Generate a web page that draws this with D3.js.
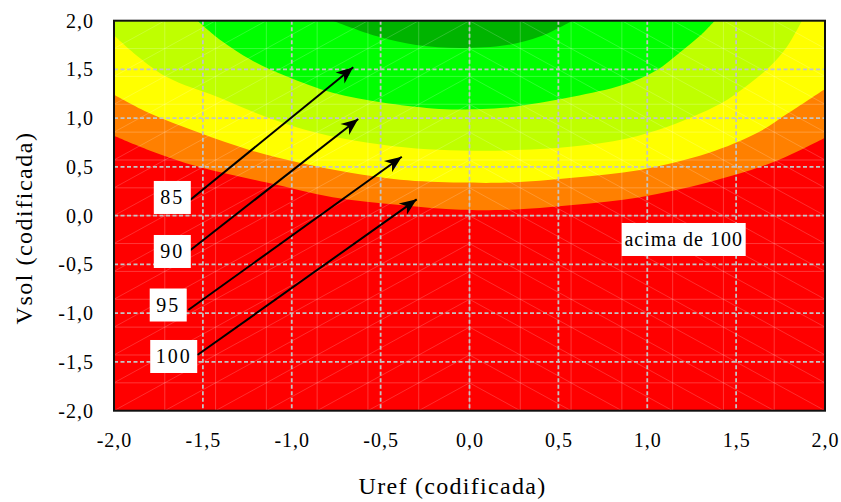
<!DOCTYPE html>
<html>
<head>
<meta charset="utf-8">
<script src="https://cdn.jsdelivr.net/npm/d3@7"></script>
<style>
  body { margin: 0; background: #fff; }
  text { font-family: "Liberation Serif", "Times New Roman", serif; fill: #000; }
</style>
</head>
<body>
<div id="chart"></div>
<script>
// axis ticks (coded values)
var xTicks = [-2, -1.5, -1, -0.5, 0, 0.5, 1, 1.5, 2];
var yTicks = [-2, -1.5, -1, -0.5, 0, 0.5, 1, 1.5, 2];

// contour levels, from outside (red) to the inner dark green top
var levels = [100, 95, 90, 85, 80];
var bandColors = ["#ff8000", "#ffff00", "#bfff00", "#00ff00", "#00b400"];
var baseColor = "#ff0000";

// boundaries, [Uref, Vsol]
var b100 = [[-2.0, 0.82], [-1.80, 0.67], [-1.52, 0.50], [-1.14, 0.34], [-0.77, 0.19], [-0.39, 0.11],
  [-0.05, 0.06], [0.21, 0.06], [0.58, 0.11], [0.96, 0.19], [1.34, 0.34], [1.71, 0.55], [2.0, 0.80]];
var b95 = [[-2.0, 1.24], [-1.80, 1.05], [-1.52, 0.85], [-1.23, 0.67], [-0.95, 0.54], [-0.67, 0.44],
  [-0.39, 0.37], [-0.05, 0.34], [0.21, 0.34], [0.58, 0.39], [0.96, 0.47], [1.34, 0.64], [1.62, 0.85],
  [1.80, 1.06], [2.0, 1.30]];
var b90 = [[-2.0, 1.85], [-1.89, 1.67], [-1.70, 1.42], [-1.42, 1.22], [-1.14, 1.01], [-0.86, 0.85],
  [-0.58, 0.75], [-0.30, 0.69], [-0.05, 0.67], [0.21, 0.67], [0.58, 0.71], [0.88, 0.79], [1.11, 0.91],
  [1.30, 1.05], [1.45, 1.19], [1.58, 1.36], [1.69, 1.53], [1.785, 1.73], [1.87, 2.0]];
var b85 = [[-1.53, 2.0], [-1.40, 1.80], [-1.23, 1.60], [-1.03, 1.43], [-0.77, 1.26], [-0.49, 1.16],
  [-0.21, 1.10], [-0.05, 1.09], [0.21, 1.11], [0.58, 1.22], [0.86, 1.34], [1.05, 1.49], [1.18, 1.67],
  [1.30, 1.85], [1.38, 2.0]];
var b80 = [[-0.77, 2.0], [-0.52, 1.84], [-0.30, 1.75], [-0.05, 1.72], [0.21, 1.75], [0.40, 1.84], [0.58, 2.0]];
var boundaries = [b100, b95, b90, b85, b80];

// callouts: label, label centre, arrow start, arrow tip (coded units)
var calloutLabels = ["85", "90", "95", "100"];
var calloutBox = [[-1.672, 0.187], [-1.672, -0.367], [-1.695, -0.916], [-1.664, -1.444]];
var calloutFrom = [[-1.572, 0.161], [-1.582, -0.369], [-1.582, -0.967], [-1.531, -1.429]];
var calloutTo = [[-0.654, 1.522], [-0.626, 0.992], [-0.381, 0.605], [-0.297, 0.168]];
var outsideLabel = "acima de 100";
var outsidePos = [1.205, -0.244];

var svgWidth = 841;
var svgHeight = 502;
var margin = { top: 20.7, right: 16, bottom: 91.3, left: 114 };
var width = svgWidth - margin.left - margin.right;
var height = svgHeight - margin.top - margin.bottom;

var svg = d3.select("#chart").append("svg")
  .attr("width", svgWidth)
  .attr("height", svgHeight);

var chartGroup = svg.append("g")
  .attr("transform", `translate(${margin.left}, ${margin.top})`);

var x = d3.scaleLinear().domain([-2, 2]).range([0, width]);
var y = d3.scaleLinear().domain([-2, 2]).range([height, 0]);

// comma decimals, plain hyphen minus
var locale = d3.formatLocale({ decimal: ",", thousands: ".", grouping: [3], currency: ["", ""], minus: "-" });
var fmt = locale.format(".1f");

svg.append("defs").append("clipPath").attr("id", "plotClip")
  .append("rect").attr("width", width).attr("height", height);

var plot = chartGroup.append("g").attr("clip-path", "url(#plotClip)");

// red background = above 100
plot.append("rect")
  .attr("width", width)
  .attr("height", height)
  .attr("fill", baseColor);

// each band fills from its boundary up to the top edge
var area = d3.area()
  .x(d => x(d[0]))
  .y0(y(2))
  .y1(d => y(d[1]))
  .curve(d3.curveCatmullRom.alpha(0.5));

plot.selectAll(".band")
  .data(boundaries)
  .enter()
  .append("path")
  .attr("class", "band")
  .attr("d", d => area(d))
  .attr("fill", (d, i) => bandColors[i]);

// faint triangulation mesh
var meshStep = 4 / 14;
var mesh = d3.range(-2, 2 + 1e-9, meshStep);
var meshG = plot.append("g").attr("stroke", "#fff").attr("fill", "none");
meshG.selectAll(".mv").data(mesh).enter().append("line")
  .attr("x1", d => x(d)).attr("x2", d => x(d))
  .attr("y1", 0).attr("y2", height)
  .attr("stroke-opacity", 0.22).attr("stroke-width", 1);
meshG.selectAll(".mh").data(mesh).enter().append("line")
  .attr("y1", d => y(d)).attr("y2", d => y(d))
  .attr("x1", 0).attr("x2", width)
  .attr("stroke-opacity", 0.22).attr("stroke-width", 1);
var cells = [];
mesh.slice(0, -1).forEach(a => mesh.slice(0, -1).forEach(b => cells.push([a, b])));
meshG.selectAll(".md").data(cells).enter().append("line")
  .attr("x1", d => x(d[0])).attr("x2", d => x(d[0] + meshStep))
  .attr("y1", d => d[0] < -1e-9 ? y(d[1]) : y(d[1] + meshStep))
  .attr("y2", d => d[0] < -1e-9 ? y(d[1] + meshStep) : y(d[1]))
  .attr("stroke-opacity", 0.3).attr("stroke-width", 0.6);

// dashed grid
var grid = plot.append("g").attr("stroke", "#c4c4c4").attr("stroke-width", 1.8)
  .attr("stroke-dasharray", "4,2.5");
grid.selectAll(".gx").data(xTicks.slice(1, -1)).enter().append("line")
  .attr("x1", d => x(d)).attr("x2", d => x(d))
  .attr("y1", 0).attr("y2", height);
grid.selectAll(".gy").data(yTicks.slice(1, -1)).enter().append("line")
  .attr("y1", d => y(d)).attr("y2", d => y(d))
  .attr("x1", 0).attr("x2", width);

// axes (labels only)
var xAxis = chartGroup.append("g")
  .attr("transform", `translate(0, ${height})`)
  .call(d3.axisBottom(x).tickValues(xTicks).tickFormat(fmt).tickSize(0).tickPadding(22));
var yAxis = chartGroup.append("g")
  .call(d3.axisLeft(y).tickValues(yTicks).tickFormat(fmt).tickSize(0).tickPadding(20));
[xAxis, yAxis].forEach(ax => {
  ax.select(".domain").remove();
  ax.selectAll("text")
    .style("font-family", "'Liberation Serif', serif")
    .style("font-size", "20px")
    .style("letter-spacing", "1px")
    .attr("fill", "#000");
});

// border
chartGroup.append("rect")
  .attr("width", width)
  .attr("height", height)
  .attr("fill", "none")
  .attr("stroke", "#111")
  .attr("stroke-width", 2);

// axis titles
svg.append("text")
  .attr("x", margin.left + width / 2 - 17)
  .attr("y", 494)
  .attr("text-anchor", "middle")
  .style("font-size", "24px")
  .style("letter-spacing", "1.3px")
  .text("Uref (codificada)");

svg.append("text")
  .attr("transform", `translate(32, 228) rotate(-90)`)
  .attr("text-anchor", "middle")
  .style("font-size", "24px")
  .style("letter-spacing", "1.5px")
  .text("Vsol (codificada)");

// arrow marker
svg.select("defs").append("marker")
  .attr("id", "arrowHead")
  .attr("markerUnits", "userSpaceOnUse")
  .attr("viewBox", "-18 -8 20 16")
  .attr("refX", 0).attr("refY", 0)
  .attr("markerWidth", 20).attr("markerHeight", 16)
  .attr("orient", "auto")
  .append("path")
  .attr("d", "M0,0 L-17,-7 L-12,0 L-17,7 Z")
  .attr("fill", "#000");

var notes = chartGroup.append("g");
notes.selectAll(".arrow").data(calloutLabels).enter().append("line")
  .attr("x1", (d, i) => x(calloutFrom[i][0]))
  .attr("y1", (d, i) => y(calloutFrom[i][1]))
  .attr("x2", (d, i) => x(calloutTo[i][0]))
  .attr("y2", (d, i) => y(calloutTo[i][1]))
  .attr("stroke", "#000")
  .attr("stroke-width", 2)
  .attr("marker-end", "url(#arrowHead)");

function addLabel(txt, pos, boxW, spacing) {
  var g = notes.append("g").attr("transform", `translate(${x(pos[0])}, ${y(pos[1])})`);
  g.append("rect")
    .attr("x", -boxW / 2).attr("y", -16.5)
    .attr("width", boxW).attr("height", 33)
    .attr("fill", "#fff");
  g.append("text")
    .attr("text-anchor", "middle")
    .attr("dy", "0.35em")
    .style("font-size", "20px")
    .style("letter-spacing", spacing + "px")
    .text(txt);
}
calloutLabels.forEach((t, i) => addLabel(t, calloutBox[i], t.length > 2 ? 47 : 37, 2));
addLabel(outsideLabel, outsidePos, 124, 1);
</script>
</body>
</html>
